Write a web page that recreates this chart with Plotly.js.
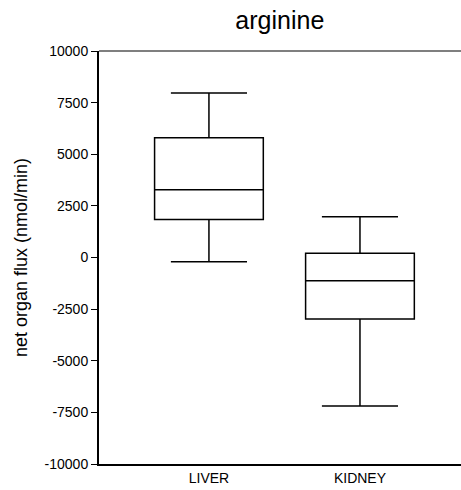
<!DOCTYPE html>
<html>
<head>
<meta charset="utf-8">
<script src="https://cdn.plot.ly/plotly-3.0.1.min.js"></script>
<style>html,body{margin:0;padding:0;background:#fff;}#chart{width:461px;height:490px;}</style>
</head>
<body>
<div id="chart"></div>
<script>
var categories = ["LIVER", "KIDNEY"];
var lowerWhisker = [-200, -7190];
var q1Values = [1840, -2975];
var medianValues = [3280, -1130];
var q3Values = [5800, 200];
var upperWhisker = [7970, 1970];
var yTickVals = [-10000, -7500, -5000, -2500, 0, 2500, 5000, 7500, 10000];
var yTickText = ["-10000", "-7500", "-5000", "-2500", "0", "2500", "5000", "7500", "10000"];

var FONT = "Liberation Sans, Arial, sans-serif";

var traces = categories.map(function (c, i) {
  return {
    type: "box",
    x: [c],
    q1: [q1Values[i]],
    median: [medianValues[i]],
    q3: [q3Values[i]],
    lowerfence: [lowerWhisker[i]],
    upperfence: [upperWhisker[i]],
    width: 0.72,
    whiskerwidth: 0.7,
    fillcolor: "rgba(0,0,0,0)",
    line: { color: "#000", width: 1.5 },
    boxpoints: false,
    hoverinfo: "skip",
    showlegend: false
  };
});

var layout = {
  width: 461,
  height: 490,
  margin: { l: 99, r: 0, t: 51, b: 26 },
  paper_bgcolor: "#fff",
  plot_bgcolor: "#fff",
  font: { family: FONT, color: "#000" },
  title: {
    text: "arginine",
    font: { size: 25, family: FONT, color: "#000" },
    x: 0.607, xanchor: "center",
    y: 0.958, yanchor: "middle"
  },
  xaxis: {
    type: "category",
    categoryorder: "array",
    categoryarray: categories,
    range: [-0.728, 1.669],
    showgrid: false,
    zeroline: false,
    showline: true,
    linecolor: "#000",
    linewidth: 2,
    ticks: "",
    tickfont: { size: 14, family: FONT, color: "#000" },
    fixedrange: true
  },
  yaxis: {
    range: [-10000, 10000],
    tickvals: yTickVals,
    ticktext: yTickText,
    showgrid: false,
    zeroline: false,
    showline: true,
    linecolor: "#000",
    linewidth: 2,
    ticks: "outside",
    ticklen: 6,
    tickwidth: 1,
    tickcolor: "#000",
    tickfont: { size: 14, family: FONT, color: "#000" },
    title: {
      text: "net organ flux (nmol/min)",
      font: { size: 18, family: FONT, color: "#000" },
      standoff: 12
    },
    fixedrange: true
  },
  shapes: [
    { type: "line", xref: "paper", yref: "paper", x0: 0, x1: 1, y0: 1, y1: 1,
      line: { color: "#000", width: 1.2 } }
  ]
};

Plotly.newPlot("chart", traces, layout, { staticPlot: true, displayModeBar: false });
</script>
</body>
</html>
